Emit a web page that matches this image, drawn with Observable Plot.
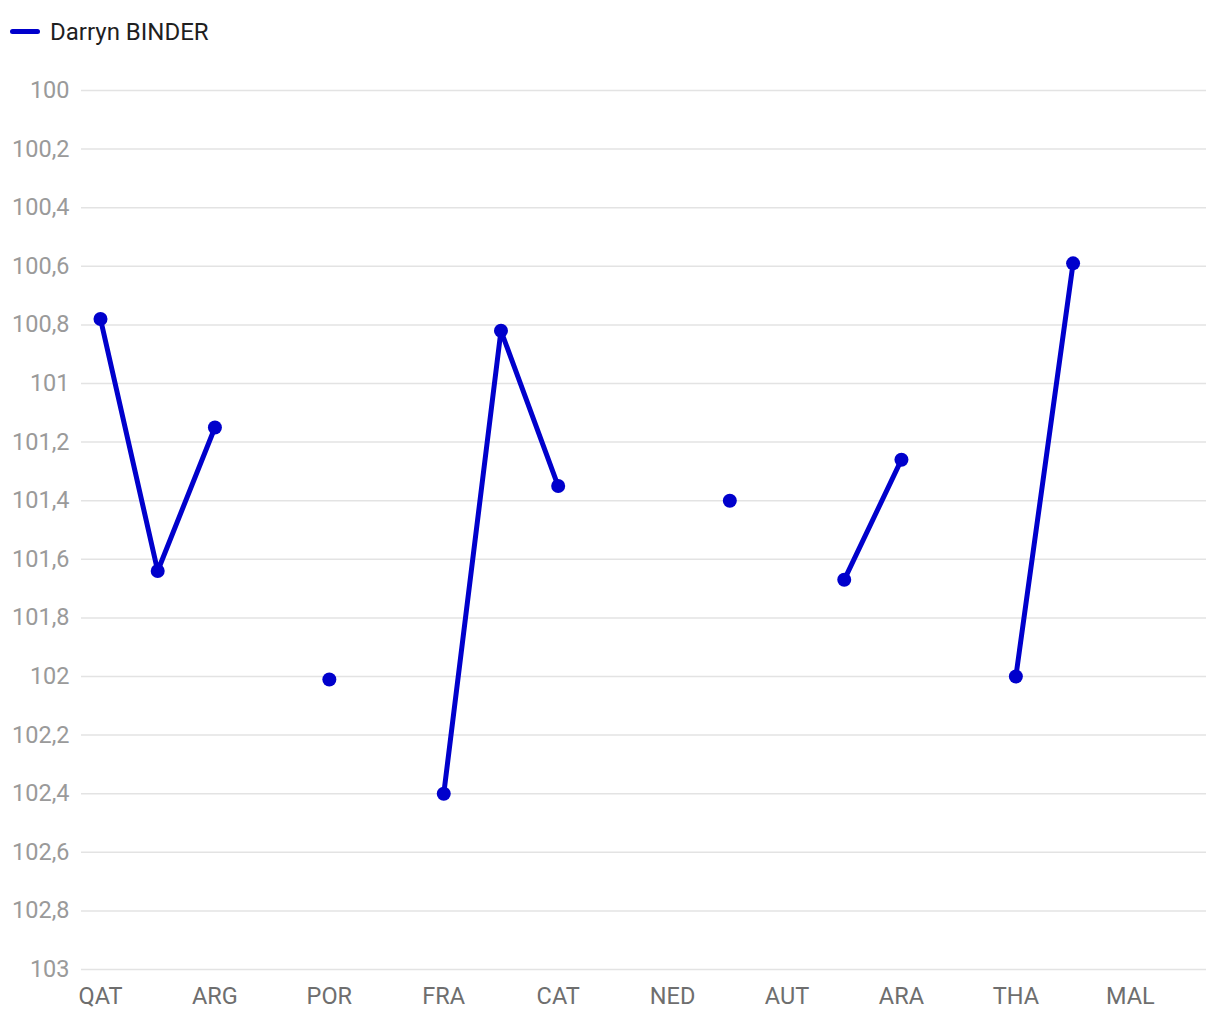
<!DOCTYPE html>
<html>
<head>
<meta charset="utf-8">
<script src="https://cdn.jsdelivr.net/npm/d3@7"></script>
<script src="https://cdn.jsdelivr.net/npm/@observablehq/plot@0.6"></script>
<style>
  body { margin: 0; background: #fff; font-family: Roboto, "Noto Sans", sans-serif; }
  #legend { height: 60px; position: relative; }
  #legend .sw { position: absolute; left: 10px; top: 29px; width: 30px; height: 5px; border-radius: 3px; background: #0000cc; }
  #legend .lb { position: absolute; left: 50px; top: 17px; font-size: 24px; color: #1f1f1f; line-height: 30px; }
  svg { display: block; }
</style>
</head>
<body>
<div id="legend"><span class="sw"></span><span class="lb">Darryn BINDER</span></div>
<div id="chart"></div>
<script>
const rounds = ["QAT","INA","ARG","AME","POR","SPA","FRA","ITA","CAT","GER","NED","GBR","AUT","RSM","ARA","JPN","THA","AUS","MAL","VAL"];
const positions = [100.78, 101.64, 101.15, null, 102.01, null, 102.40, 100.82, 101.35, null, null, 101.40, null, 101.67, 101.26, null, 102.00, 100.59, null, null];
const xTickLabels = ["QAT","ARG","POR","FRA","CAT","NED","AUT","ARA","THA","MAL"];
const yTicks = [100, 100.2, 100.4, 100.6, 100.8, 101, 101.2, 101.4, 101.6, 101.8, 102, 102.2, 102.4, 102.6, 102.8, 103];
const riderName = "Darryn BINDER";

const data = rounds.map((r, i) => ({round: r, value: positions[i], rider: riderName}));
const fmt = d => String(+d.toFixed(1)).replace(".", ",");

const chart = Plot.plot({
  width: 1220,
  height: 960,
  marginTop: 30,
  marginBottom: 51,
  marginLeft: 81,
  marginRight: 14,
  style: {fontFamily: "Roboto, 'Noto Sans', sans-serif", fontSize: "23.5px", background: "#fff"},
  x: {type: "point", domain: rounds, padding: 0.332, round: false},
  y: {domain: [100, 103], reverse: true, label: null},
  marks: [
    Plot.ruleY(yTicks, {stroke: "#e3e3e3", strokeWidth: 1.5}),
    Plot.axisY(yTicks, {tickSize: 0, tickPadding: 12, tickFormat: fmt, fill: "#9a9a9a", fontSize: 23.5, label: null}),
    Plot.axisX(xTickLabels, {tickSize: 0, tickPadding: 18, fill: "#6e6e6e", fontSize: 23.5, label: null}),
    Plot.line(data, {x: "round", y: "value", stroke: "#0000cc", strokeWidth: 5, strokeLinejoin: "round"}),
    Plot.dot(data, {x: "round", y: "value", r: 7, fill: "#0000cc", stroke: null})
  ]
});
document.getElementById("chart").appendChild(chart);
</script>
</body>
</html>
